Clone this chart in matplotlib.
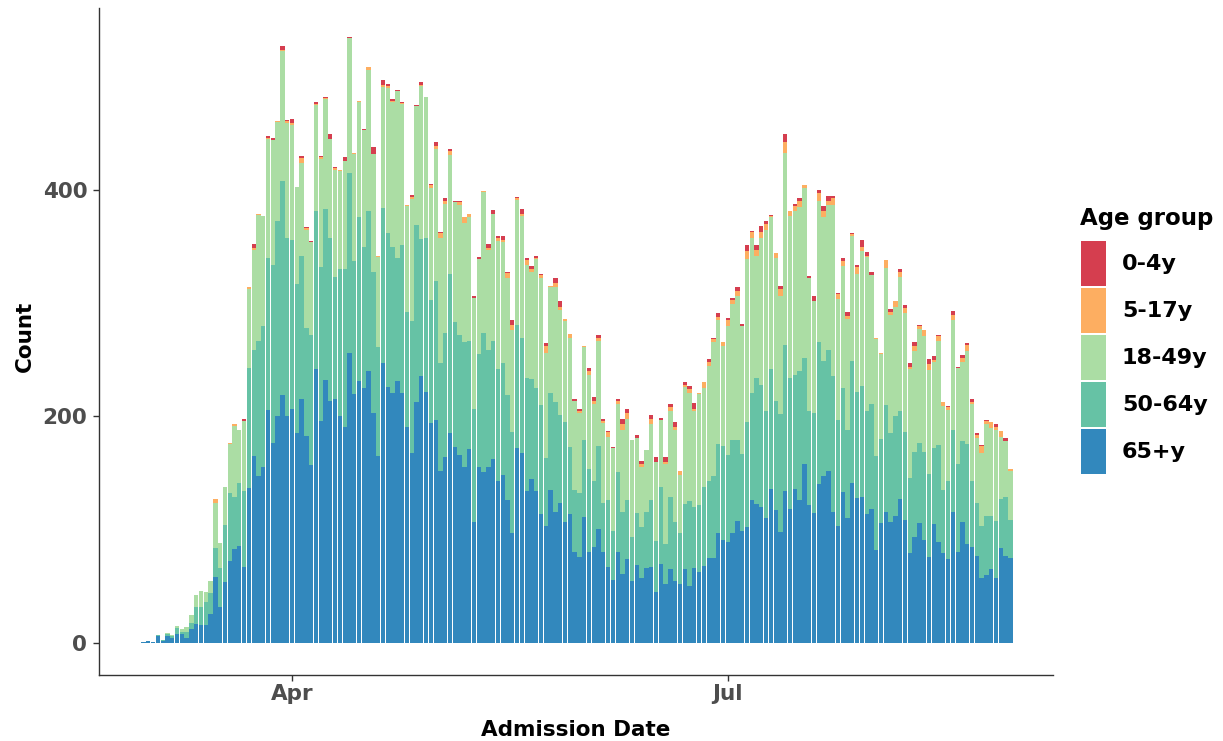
import matplotlib
matplotlib.use("Agg")
import matplotlib.pyplot as plt
from matplotlib.patches import Rectangle
import numpy as np

# day index: 0 = 1 March, 31 = 1 April, 122 = 1 July
# daily totals
total = [1, 2, 1, 7, 3, 9, 7, 15, 12, 14, 25,
         42, 46, 45, 55, 127, 88, 138, 177, 193, 188, 198,
         314, 352, 379, 377, 448, 446, 461, 527,
         462, 463, 403, 430, 367, 355, 478, 430, 482, 449, 420, 418, 429, 535, 433, 479,
         454, 509, 438, 342, 497, 494, 480, 488, 478, 387, 396, 475, 495, 482, 405,
         442, 363, 393, 436, 390, 390, 376, 379, 306, 341, 399, 352, 382, 359, 359,
         328, 285, 394, 383, 340, 333, 342, 326, 265, 315, 322, 302, 286, 273, 215,
         207, 262, 243, 217, 272, 198, 187, 173, 215, 198, 207, 179, 184, 161, 170,
         201, 164, 199, 164, 211, 195, 152, 230, 227, 212, 221, 230, 251, 269, 291,
         266, 287, 305, 314, 282, 351, 364, 351, 368, 373, 378, 344, 315, 449, 381, 388,
         393, 404, 324, 306, 400, 386, 395, 395, 309, 340, 292, 362, 334, 356, 345,
         328, 269, 256, 338, 295, 302, 330, 298, 247, 266, 281, 276, 251, 253, 272,
         213, 209, 293, 244, 254, 265, 215, 185, 175, 197, 195, 193, 187, 181, 154]

# top of the 50-64y segment (65+y and 50-64y together)
top_50_64 = [1, 2, 1, 7, 3, 8, 6, 13, 10, 10, 18,
             32, 32, 36, 44, 84, 66, 104, 132, 129, 141, 134,
             243, 259, 267, 280, 340, 334, 373, 408,
             358, 356, 317, 342, 278, 272, 381, 332, 383, 358, 323, 330, 330, 415, 337, 376,
             350, 381, 328, 261, 384, 362, 350, 340, 351, 292, 284, 369, 357, 358, 303,
             320, 247, 274, 326, 283, 272, 266, 267, 207, 255, 274, 259, 267, 242, 247,
             219, 186, 281, 269, 234, 233, 225, 210, 163, 221, 213, 201, 195, 173, 135,
             132, 179, 154, 143, 174, 124, 126, 99, 151, 116, 126, 94, 115, 102, 116,
             126, 90, 138, 87, 129, 107, 97, 123, 125, 120, 122, 138, 143, 147, 176,
             174, 166, 179, 179, 167, 195, 221, 234, 228, 205, 242, 214, 202, 263, 234, 237,
             240, 252, 205, 203, 266, 249, 259, 236, 197, 225, 188, 249, 222, 227, 205,
             211, 165, 180, 210, 185, 200, 205, 186, 146, 169, 177, 169, 149, 172, 175,
             135, 143, 188, 158, 178, 176, 143, 124, 103, 112, 112, 108, 127, 129, 109]

age_65 = [1, 2, 1, 6, 2, 6, 4, 8, 8, 4, 12,
          17, 16, 16, 26, 58, 32, 54, 72, 83, 86, 67,
          137, 165, 147, 155, 206, 177, 200, 219,
          200, 207, 185, 215, 183, 157, 242, 196, 232, 214, 215, 200, 191, 256, 220, 231,
          225, 240, 203, 165, 247, 226, 221, 231, 221, 191, 168, 213, 236, 222, 194,
          197, 152, 164, 185, 173, 166, 155, 171, 107, 155, 151, 155, 162, 143, 148,
          126, 97, 172, 168, 134, 145, 134, 114, 103, 135, 116, 124, 107, 114, 80,
          76, 111, 80, 85, 101, 80, 67, 56, 80, 61, 74, 55, 69, 57, 66,
          67, 45, 70, 52, 65, 55, 52, 65, 50, 66, 63, 68, 75, 75, 97,
          91, 89, 97, 108, 99, 102, 126, 123, 120, 110, 136, 117, 98, 134, 118, 136,
          126, 158, 122, 115, 140, 147, 152, 116, 103, 133, 110, 141, 128, 129, 114,
          118, 82, 106, 116, 107, 112, 127, 109, 79, 94, 106, 91, 76, 105, 89,
          79, 74, 116, 80, 107, 87, 85, 77, 57, 60, 65, 57, 84, 77, 75]

age_0_4 = [0, 0, 0, 0, 0, 0, 0, 0, 0, 0,
           0, 0, 0, 0, 0, 0, 0, 0, 0, 0,
           0, 2, 0, 3, 0, 0, 2, 2, 0, 3,
           1, 4, 0, 2, 1, 1, 2, 1, 1, 4,
           1, 0, 3, 1, 0, 0, 1, 0, 6, 0,
           4, 2, 1, 1, 1, 0, 2, 1, 2, 0,
           1, 3, 1, 3, 2, 1, 1, 0, 0, 1,
           2, 0, 3, 3, 1, 3, 1, 4, 1, 4,
           2, 3, 2, 1, 3, 0, 4, 5, 0, 0,
           1, 2, 0, 3, 3, 3, 2, 1, 1, 1,
           5, 4, 0, 3, 3, 0, 3, 4, 2, 4,
           3, 4, 0, 2, 3, 5, 0, 0, 3, 1,
           3, 0, 2, 2, 3, 2, 5, 1, 4, 5,
           3, 1, 0, 2, 7, 0, 2, 3, 0, 2,
           4, 3, 5, 5, 2, 1, 3, 3, 1, 2,
           6, 3, 3, 0, 0, 0, 3, 0, 2, 2,
           3, 4, 1, 0, 5, 3, 1, 0, 1, 3,
           1, 2, 2, 2, 1, 1, 1, 0, 2, 0,
           3, 0]

age_5_17 = [0, 0, 0, 0, 0, 0, 0, 0, 0, 0,
            0, 0, 0, 0, 0, 3, 0, 0, 1, 1,
            0, 0, 1, 2, 1, 0, 1, 0, 1, 1,
            2, 2, 0, 4, 1, 0, 1, 2, 1, 0,
            1, 1, 0, 0, 1, 1, 0, 3, 0, 1,
            2, 2, 1, 0, 1, 1, 2, 0, 1, 0,
            2, 3, 4, 2, 3, 0, 2, 5, 3, 0,
            0, 1, 2, 0, 3, 2, 5, 5, 2, 2,
            4, 2, 1, 3, 6, 1, 4, 3, 2, 4,
            0, 2, 1, 3, 3, 2, 2, 4, 0, 3,
            5, 5, 0, 0, 3, 0, 5, 0, 0, 2,
            3, 3, 4, 2, 3, 2, 1, 5, 3, 2,
            3, 4, 5, 4, 5, 0, 7, 5, 5, 5,
            5, 1, 4, 7, 9, 4, 5, 5, 2, 0,
            0, 7, 5, 3, 6, 4, 4, 3, 2, 6,
            4, 1, 0, 1, 1, 7, 2, 5, 5, 5,
            2, 4, 3, 5, 5, 2, 4, 4, 2, 5,
            0, 4, 5, 2, 3, 6, 3, 5, 3, 5,
            0, 2]

groups = ['0-4y', '5-17y', '18-49y', '50-64y', '65+y']
colors = ['#D53E4F', '#FDAE61', '#ABDDA4', '#66C2A5', '#3288BD']
tick_pos = [31, 122]
tick_lab = ['Apr', 'Jul']

total = np.array(total)
top_50_64 = np.array(top_50_64)
age_65 = np.array(age_65)
age_0_4 = np.array(age_0_4)
age_5_17 = np.array(age_5_17)
age_50_64 = top_50_64 - age_65
age_18_49 = np.clip(total - top_50_64 - age_0_4 - age_5_17, 0, None)
days = np.arange(len(total))

fig = plt.figure(figsize=(12.23, 7.41), dpi=100)
ax = fig.add_axes([99/1223, 1-675/741, (1053-99)/1223, (675-8)/741])

# stack from the bottom: 65+, 50-64, 18-49, 5-17, 0-4
stack = [age_65, age_50_64, age_18_49, age_5_17, age_0_4]
stack_col = colors[::-1]
bottom = np.zeros(len(days))
for vals, c in zip(stack, stack_col):
    ax.bar(days, vals, bottom=bottom, width=0.9, color=c, linewidth=0)
    bottom = bottom + vals

ax.set_xlim(-9.3, 189.9)
ax.set_ylim(-28.3, 560.7)
ax.set_yticks([0, 200, 400])
ax.set_xticks(tick_pos)
ax.set_xticklabels(tick_lab)
for s in ['top', 'right']:
    ax.spines[s].set_visible(False)
for s in ['left', 'bottom']:
    ax.spines[s].set_color('#333333')
    ax.spines[s].set_linewidth(1.0)
ax.tick_params(axis='both', colors='#333333', labelcolor='#4D4D4D',
               labelsize=15.5, length=4.5, width=1.0)
ax.tick_params(axis='y', pad=4)
ax.tick_params(axis='x', pad=2)
for lab in ax.get_xticklabels() + ax.get_yticklabels():
    lab.set_fontweight('bold')

fig.text(25/1223, 1-336/741, 'Count', rotation=90, ha='center', va='center',
         fontsize=15.5, fontweight='bold', color='black')
fig.text(576/1223, 1-730/741, 'Admission Date', ha='center', va='center',
         fontsize=15.5, fontweight='bold', color='black')

# legend
fig.text(1080/1223, 1-219/741, 'Age group', ha='left', va='center',
         fontsize=16.5, fontweight='bold', color='black')
key_top = [241, 288, 335, 382, 429]
for g, c, yt in zip(groups, colors, key_top):
    fig.add_artist(Rectangle((1081/1223, 1-(yt+45)/741), 25/1223, 45/741,
                             facecolor=c, edgecolor='none', transform=fig.transFigure))
    fig.text(1122/1223, 1-(yt+23)/741, g, ha='left', va='center',
             fontsize=16, fontweight='bold', color='black')

fig.savefig('out.png', dpi=100, facecolor='white')
